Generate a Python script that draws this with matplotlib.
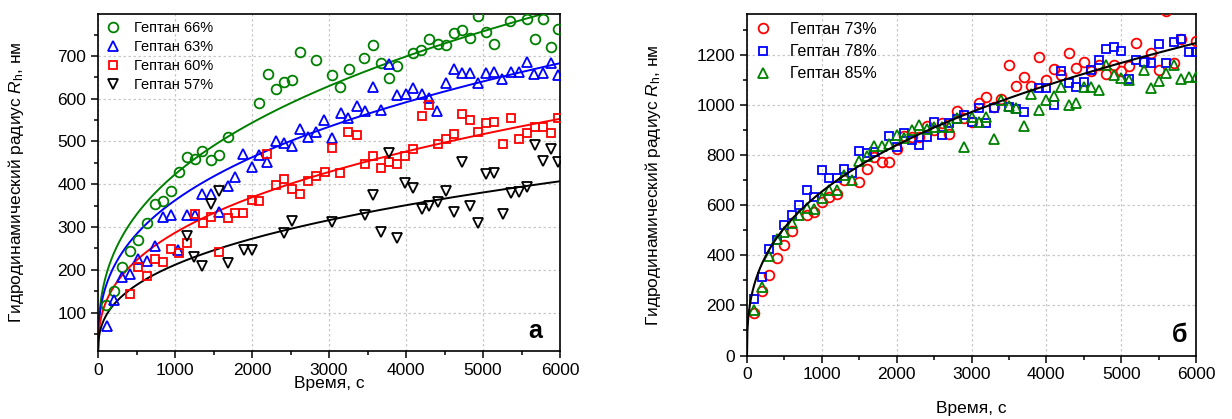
import numpy as np
import matplotlib
matplotlib.use("Agg")
import matplotlib.pyplot as plt
from matplotlib.ticker import MultipleLocator

plt.rcParams["font.family"] = ["Liberation Sans", "DejaVu Sans"]
plt.rcParams["mathtext.fontset"] = "custom"
plt.rcParams["mathtext.rm"] = "Liberation Sans"
plt.rcParams["mathtext.it"] = "Liberation Sans:italic"

# ---------------- panel "а": heptane 66 / 63 / 60 / 57 % ----------------
t_66 = [110, 210, 315, 415, 525, 630, 740, 840, 950, 1050, 1150, 1260, 1355, 1465,
        1575, 1685, 2095, 2205, 2310, 2415, 2515, 2625, 2830, 3040, 3145, 3255, 3460,
        3570, 3670, 3780, 3885, 4090, 4200, 4305, 4410, 4515, 4620, 4725, 4830, 4935,
        5040, 5145, 5350, 5565, 5675, 5775, 5880, 5980]
r_66 = [117, 151, 207, 244, 270, 309, 353, 360, 383, 428, 464, 459, 477, 457,
        469, 510, 591, 657, 622, 640, 644, 709, 691, 656, 628, 670, 696,
        725, 684, 648, 677, 707, 713, 740, 727, 726, 754, 760, 742, 794,
        756, 729, 782, 786, 739, 786, 722, 764]

t_63 = [113, 208, 316, 416, 524, 632, 740, 840, 948, 1043, 1151, 1260, 1355, 1467,
        1576, 1684, 1779, 1887, 1996, 2095, 2199, 2307, 2416, 2524, 2623, 2731, 2831,
        2939, 3043, 3151, 3251, 3359, 3467, 3576, 3675, 3779, 3887, 3996, 4095, 4203,
        4303, 4407, 4515, 4623, 4723, 4831, 4939, 5039, 5147, 5251, 5359, 5467, 5567,
        5667, 5784, 5883, 5978]
r_63 = [69, 130, 182, 190, 225, 221, 256, 323, 328, 246, 328, 328, 378, 378,
        336, 396, 416, 471, 440, 468, 452, 501, 497, 489, 530, 511, 522,
        551, 508, 567, 555, 584, 571, 628, 573, 680, 608, 610, 624, 610,
        602, 572, 637, 669, 659, 661, 636, 659, 662, 645, 662, 662, 686,
        657, 659, 684, 655]

t_60 = [415, 525, 630, 740, 840, 950, 1050, 1160, 1260, 1360, 1465, 1575, 1685, 1780,
        1885, 1995, 2095, 2200, 2310, 2415, 2515, 2625, 2730, 2830, 2945, 3040, 3145,
        3250, 3360, 3465, 3575, 3675, 3785, 3885, 3990, 4095, 4205, 4305, 4410, 4515,
        4625, 4725, 4830, 4940, 5040, 5145, 5255, 5360, 5465, 5565, 5675, 5785, 5885,
        5980]
r_60 = [144, 206, 185, 224, 219, 248, 238, 262, 330, 309, 324, 242, 322, 332,
        332, 362, 361, 471, 399, 413, 389, 378, 408, 420, 429, 484, 426,
        522, 516, 447, 465, 439, 452, 448, 467, 483, 559, 585, 493, 506,
        518, 565, 551, 522, 542, 546, 494, 554, 506, 519, 534, 533, 519,
        554]

t_57 = [1150, 1250, 1355, 1465, 1575, 1685, 1895, 2005, 2415, 2525, 3040, 3465, 3575,
        3675, 3780, 3880, 3985, 4095, 4205, 4305, 4410, 4515, 4625, 4725, 4830, 4940,
        5045, 5145, 5255, 5360, 5465, 5565, 5675, 5780, 5885, 5980]
r_57 = [280, 229, 209, 353, 383, 216, 246, 246, 287, 314, 311, 327, 375,
        288, 473, 275, 403, 390, 342, 350, 358, 385, 336, 451, 350, 310,
        423, 426, 331, 379, 381, 393, 492, 455, 482, 453]

# power-law fits R = a * t**b
fit_a_left = {"66": (34.7, 0.362), "63": (31.4, 0.354), "60": (22.7, 0.367), "57": (17.0, 0.365)}

# ---------------- panel "б": heptane 73 / 78 / 85 % ----------------
t_73 = [100, 200, 300, 400, 500, 600, 800, 900, 1000, 1100, 1200, 1300, 1500, 1600,
        1700, 1800, 1900, 2000, 2100, 2200, 2300, 2400, 2500, 2600, 2700, 2800, 2900,
        3000, 3100, 3200, 3300, 3400, 3500, 3600, 3700, 3800, 3900, 4000, 4100, 4200,
        4300, 4400, 4500, 4600, 4700, 4800, 4900, 5000, 5100, 5200, 5300, 5400, 5500,
        5600, 5700, 5800, 6000]
r_73 = [170, 257, 321, 388, 442, 497, 560, 572, 613, 632, 647, 700, 694, 745,
        792, 772, 772, 825, 877, 874, 874, 917, 901, 930, 887, 978, 951,
        935, 1010, 1032, 993, 1024, 1160, 1079, 1113, 1076, 1195, 1101, 1144, 1123,
        1210, 1148, 1175, 1136, 1161, 1126, 1160, 1137, 1157, 1250, 1172, 1210, 1143,
        1375, 1171, 1265, 1258]

t_78 = [100, 200, 300, 400, 500, 600, 700, 800, 900, 1000, 1100, 1200, 1300, 1400,
        1500, 1600, 1700, 1900, 2000, 2100, 2200, 2300, 2400, 2500, 2600, 2700, 2800,
        2900, 3000, 3100, 3200, 3300, 3500, 3600, 3700, 3900, 4000, 4100, 4200, 4300,
        4400, 4500, 4600, 4700, 4800, 4900, 5000, 5100, 5200, 5300, 5400, 5500, 5600,
        5700, 5800, 5900, 6000]
r_78 = [227, 312, 425, 461, 521, 560, 600, 661, 633, 742, 708, 708, 746, 729,
        817, 808, 812, 877, 835, 891, 861, 840, 873, 935, 881, 929, 945,
        962, 935, 991, 928, 990, 995, 986, 975, 1070, 1071, 1000, 1139, 1088,
        1075, 1095, 1141, 1181, 1226, 1233, 1217, 1105, 1181, 1175, 1168, 1244, 1168,
        1255, 1264, 1213, 1213]

t_85 = [100, 200, 300, 400, 500, 600, 700, 800, 900, 1000, 1100, 1200, 1300, 1400,
        1500, 1600, 1700, 1800, 1900, 2000, 2100, 2200, 2300, 2400, 2500, 2600, 2700,
        2800, 2900, 3000, 3100, 3200, 3300, 3400, 3500, 3600, 3700, 3800, 3900, 4000,
        4100, 4200, 4300, 4400, 4500, 4600, 4700, 4800, 4900, 5000, 5100, 5300, 5400,
        5500, 5600, 5700, 5800, 5900, 6000]
r_85 = [181, 275, 399, 464, 495, 528, 561, 588, 585, 628, 661, 661, 721, 701,
        778, 799, 836, 839, 845, 880, 870, 900, 921, 905, 915, 915, 914,
        950, 835, 955, 935, 953, 865, 1020, 999, 988, 918, 1046, 981, 1022,
        1036, 1072, 1003, 1011, 1072, 1072, 1061, 1162, 1123, 1108, 1100, 1141, 1068,
        1098, 1128, 1160, 1105, 1115, 1112]

fit_right = (54.5, 0.36)

GREEN = "#008000"
BLUE = "#0000ff"
RED = "#ff0000"
BLACK = "#000000"

fig = plt.figure(figsize=(12.32, 4.19), dpi=100)
ax1 = fig.add_axes([98 / 1232, 1 - 351 / 419, 462 / 1232, 337 / 419])
ax2 = fig.add_axes([747 / 1232, 1 - 355.5 / 419, 449 / 1232, 341.5 / 419])

tt = np.linspace(0, 6000, 1200)
mk = dict(linestyle="none", markerfacecolor="none", markersize=7, markeredgewidth=1.3)


def style_axes(ax, ymin, ymax, ymaj, ymin_step):
    ax.set_xlim(0, 6000)
    ax.set_ylim(ymin, ymax)
    ax.xaxis.set_major_locator(MultipleLocator(1000))
    ax.xaxis.set_minor_locator(MultipleLocator(500))
    ax.yaxis.set_major_locator(MultipleLocator(ymaj))
    ax.yaxis.set_minor_locator(MultipleLocator(ymin_step))
    ax.tick_params(which="both", direction="out", top=False, right=False,
                   labelsize=12.5, width=1.1)
    ax.tick_params(which="major", length=5)
    ax.tick_params(which="minor", length=3)
    ax.grid(True, which="major", color="#c8c8c8", linestyle=(0, (2, 2)), linewidth=0.9)
    ax.set_axisbelow(True)
    for s in ax.spines.values():
        s.set_linewidth(1.2)
    ax.set_xlabel("Время, с", fontsize=12.5)
    ax.set_ylabel(r"Гидродинамический радиус $R_\mathrm{h}$, нм", fontsize=12.5)


# panel а
series_left = [
    ("Гептан 66%", t_66, r_66, GREEN, "o", "66"),
    ("Гептан 63%", t_63, r_63, BLUE, "^", "63"),
    ("Гептан 60%", t_60, r_60, RED, "s", "60"),
    ("Гептан 57%", t_57, r_57, BLACK, "v", "57"),
]
for label, t, r, c, m, key in series_left:
    a, b = fit_a_left[key]
    ax1.plot(tt, a * tt ** b, color=c, linewidth=1.4, zorder=2)
for label, t, r, c, m, key in series_left:
    ms = 6 if m == "s" else 7.5 if m in "^v" else 7
    ax1.plot(t, r, marker=m, color=c, label=label, zorder=3,
             **{**mk, "markersize": ms})
style_axes(ax1, 10, 798, 100, 50)
ax1.legend(loc="upper left", frameon=False, fontsize=10.5, handlelength=1.0,
           handletextpad=1.0, labelspacing=0.33, borderaxespad=0.3, borderpad=0.2)
ax1.text(0.946, 0.058, "а", transform=ax1.transAxes, fontsize=18,
         fontweight="bold", ha="center", va="center")
ax1.yaxis.set_label_coords(-0.155, 0.5)
ax1.xaxis.set_label_coords(0.5, -0.075)

# panel б
series_right = [
    ("Гептан 73%", t_73, r_73, RED, "o"),
    ("Гептан 78%", t_78, r_78, BLUE, "s"),
    ("Гептан 85%", t_85, r_85, GREEN, "^"),
]
a, b = fit_right
ax2.plot(tt, a * tt ** b, color=BLACK, linewidth=1.5, zorder=4)
for label, t, r, c, m in series_right:
    ms = 6 if m == "s" else 7.5 if m == "^" else 7
    ax2.plot(t, r, marker=m, color=c, label=label, zorder=3,
             **{**mk, "markersize": ms})
style_axes(ax2, 0, 1365, 200, 100)
ax2.legend(loc="upper left", frameon=False, fontsize=11.5, handlelength=1.0,
           handletextpad=1.2, labelspacing=0.45, borderaxespad=0.3, borderpad=0.2)
ax2.text(0.964, 0.06, "б", transform=ax2.transAxes, fontsize=18,
         fontweight="bold", ha="center", va="center")
ax2.yaxis.set_label_coords(-0.187, 0.5)
ax2.xaxis.set_label_coords(0.5, -0.133)

fig.savefig("out.png", dpi=100)
